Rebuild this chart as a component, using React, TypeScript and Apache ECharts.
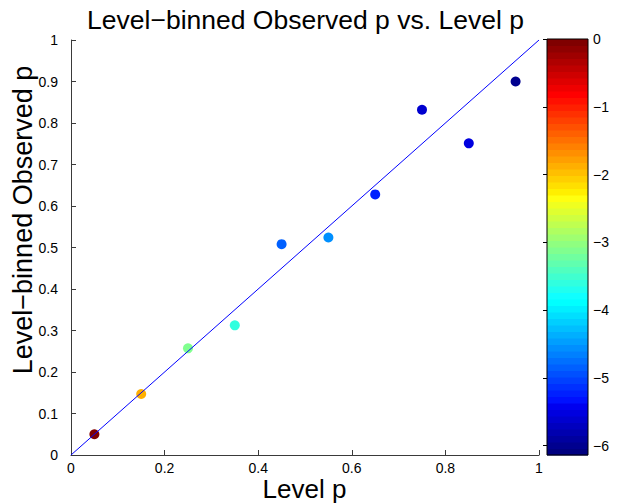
import React, { useEffect, useRef } from "react";
import * as echarts from "echarts";

const levelP = [0.05, 0.15, 0.25, 0.35, 0.45, 0.55, 0.65, 0.75, 0.85, 0.95];
const observedP = [0.05, 0.147, 0.257, 0.3125, 0.508, 0.524, 0.628, 0.832, 0.751, 0.9];
const colourValue = [0, -1.87, -3.12, -3.55, -4.85, -4.56, -5.23, -5.61, -5.52, -6.0];
const colourLimits = [-6.14, 0];
const refLineX = [0, 1];
const refLineY = [0, 1];
const xTicks = [0, 0.2, 0.4, 0.6, 0.8, 1];
const yTicks = [0, 0.1, 0.2, 0.3, 0.4, 0.5, 0.6, 0.7, 0.8, 0.9, 1];
const colourbarTicks = [0, -1, -2, -3, -4, -5, -6];

const FONT = "'Liberation Sans', Arial, Helvetica, sans-serif";
const M = 64;

// MATLAB jet(64)
function U(k: number): number {
  if (k < 1 || k > 47) return 0;
  if (k <= 16) return k / 16;
  if (k <= 31) return 1;
  return (48 - k) / 16;
}
function jet(i: number): string {
  const r = Math.round(U(i - 24) * 255);
  const g = Math.round(U(i - 8) * 255);
  const b = Math.round(U(i + 7) * 255);
  return `rgb(${r},${g},${b})`;
}
function colourIndex(v: number): number {
  const [lo, hi] = colourLimits;
  const t = (v - lo) / (hi - lo);
  return Math.max(1, Math.min(M, Math.floor(t * M) + 1));
}

export default function App() {
  const ref = useRef<HTMLDivElement>(null);
  useEffect(() => {
    if (!ref.current) return;
    const chart = echarts.init(ref.current, undefined, { renderer: "svg" });
    const [cLo, cHi] = colourLimits;
    const bands: number[][] = [];
    for (let i = 0; i < M; i++) {
      bands.push([0.5, cLo + ((cHi - cLo) * i) / M, cLo + ((cHi - cLo) * (i + 1)) / M, i + 1]);
    }
    const axisCol = "#3a3a3a";
    chart.setOption({
      animation: false,
      backgroundColor: "#ffffff",
      textStyle: { fontFamily: FONT },
      grid: [
        { left: 71, top: 40, width: 468, height: 415, containLabel: false, outerBoundsMode: "none" },
        { left: 547, top: 39, width: 41, height: 416, containLabel: false, outerBoundsMode: "none" },
      ],
      graphic: [
        {
          type: "text",
          x: 305.5,
          y: 19.5,
          style: {
            text: "Level\u2212binned Observed p vs. Level p",
            fontSize: 26.5,
            fontFamily: FONT,
            fill: "#000",
            textAlign: "center",
            textVerticalAlign: "middle",
          },
        },
        {
          type: "text",
          x: 23,
          y: 220,
          rotation: Math.PI / 2,
          style: {
            text: "Level\u2212binned Observed p",
            fontSize: 27,
            fontFamily: FONT,
            fill: "#000",
            textAlign: "center",
            textVerticalAlign: "middle",
          },
        },
        {
          type: "text",
          x: 304.5,
          y: 489,
          style: {
            text: "Level p",
            fontSize: 26,
            fontFamily: FONT,
            fill: "#000",
            textAlign: "center",
            textVerticalAlign: "middle",
          },
        },
        {
          type: "rect",
          z: 100,
          shape: { x: 547, y: 39, width: 41, height: 416 },
          style: { fill: "none", stroke: "#000", lineWidth: 1 },
        },
      ],
      xAxis: [
        {
          gridIndex: 0,
          type: "value",
          min: xTicks[0],
          max: xTicks[xTicks.length - 1],
          interval: 0.2,
          axisLine: { show: true, onZero: false, lineStyle: { color: axisCol, width: 1 } },
          axisTick: { show: true, inside: true, length: 5, lineStyle: { color: axisCol } },
          axisLabel: { fontSize: 14, color: "#000", margin: 6, fontFamily: FONT },
          splitLine: { show: false },
        },
        {
          gridIndex: 1,
          type: "value",
          min: 0,
          max: 1,
          show: false,
        },
      ],
      yAxis: [
        {
          gridIndex: 0,
          type: "value",
          min: yTicks[0],
          max: yTicks[yTicks.length - 1],
          interval: 0.1,
          axisLine: { show: true, onZero: false, lineStyle: { color: axisCol, width: 1 } },
          axisTick: { show: true, inside: true, length: 5, lineStyle: { color: axisCol } },
          axisLabel: {
            fontSize: 14,
            color: "#000",
            margin: 13,
            fontFamily: FONT,
            formatter: (v: number) => String(Math.round(v * 10) / 10),
          },
          splitLine: { show: false },
        },
        {
          gridIndex: 1,
          type: "value",
          position: "right",
          min: cLo,
          max: cHi,
          splitNumber: 6,
          axisLine: { show: false },
          axisTick: {
            show: true,
            inside: true,
            length: 4,
            lineStyle: { color: "#000" },
            customValues: colourbarTicks,
          },
          axisLabel: {
            fontSize: 14,
            color: "#000",
            margin: 5,
            fontFamily: FONT,
            customValues: colourbarTicks,
            formatter: (v: number) => String(Math.round(v)).replace("-", "\u2212"),
          },
          splitLine: { show: false },
        },
      ],
      series: [
        {
          type: "custom",
          xAxisIndex: 1,
          yAxisIndex: 1,
          encode: { x: 0, y: [1, 2] },
          data: bands,
          renderItem: (params: any, api: any) => {
            const lo = api.value(1);
            const hi = api.value(2);
            const idx = api.value(3);
            const p0 = api.coord([0, hi]);
            const p1 = api.coord([1, lo]);
            return {
              type: "rect",
              shape: { x: p0[0], y: p0[1], width: p1[0] - p0[0], height: p1[1] - p0[1] + 0.5 },
              style: { fill: jet(idx), stroke: null },
            };
          },
          silent: true,
        },
        {
          type: "scatter",
          xAxisIndex: 0,
          yAxisIndex: 0,
          symbol: "circle",
          symbolSize: 10,
          data: levelP.map((x, i) => ({
            value: [x, observedP[i], colourValue[i]],
            itemStyle: { color: jet(colourIndex(colourValue[i])), opacity: 1 },
          })),
          itemStyle: { opacity: 1 },
          z: 3,
        },
        {
          type: "line",
          xAxisIndex: 0,
          yAxisIndex: 0,
          data: refLineX.map((x, i) => [x, refLineY[i]]),
          symbol: "none",
          lineStyle: { color: "#0000ff", width: 1 },
          z: 4,
        },
      ],
    });
    return () => chart.dispose();
  }, []);
  return <div ref={ref} style={{ width: 621, height: 504, position: "absolute", left: 0, top: 0 }} />;
}
